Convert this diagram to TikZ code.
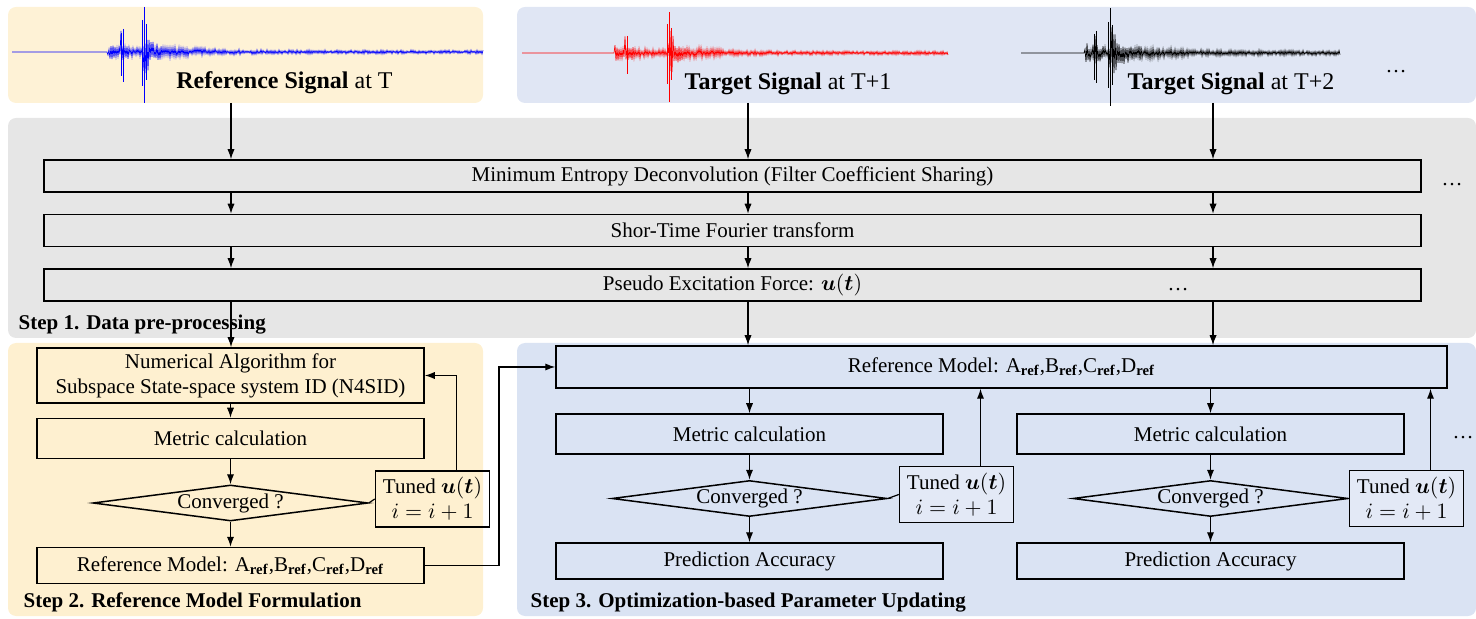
\documentclass[tikz,border=0pt]{standalone}
\usepackage{fontspec}
\setmainfont{Liberation Serif}
\usepackage{bm}
\usetikzlibrary{arrows.meta,positioning,shapes.geometric}

\definecolor{sandpanel}{HTML}{FEF2D6}
\definecolor{sandstep}{HTML}{FEF0D0}
\definecolor{skypanel}{HTML}{E0E6F4}
\definecolor{skystep}{HTML}{DAE3F3}
\definecolor{skybox}{HTML}{E3E9F6}
\definecolor{greypanel}{HTML}{E6E6E6}

\newcommand{\refmat}[1]{#1\textsubscript{\textbf{ref}}}

\tikzset{
  basic/.style    = {draw, line width=0.75pt, rectangle, inner sep=1pt, align=center,
                     font=\fontsize{10.5}{12.5}\selectfont},
  wide/.style     = {basic, minimum width=688.5pt, minimum height=16pt},
  long/.style     = {basic, minimum width=445.5pt, minimum height=21pt},
  block/.style    = {basic, minimum width=193.5pt, minimum height=20pt},
  decision/.style = {basic, diamond, aspect=7.6, inner sep=0pt,
                     minimum width=137.5pt, minimum height=18pt},
  tuned/.style    = {basic, inner sep=0pt, minimum width=57pt, minimum height=28pt},
  panel/.style    = {rounded corners=4pt},
  title/.style    = {anchor=base, inner sep=0pt, font=\fontsize{12}{14}\selectfont},
  steplabel/.style= {anchor=base west, inner sep=0pt, font=\fontsize{10.5}{12}\selectfont\bfseries},
  more/.style     = {anchor=base, inner sep=0pt, font=\fontsize{10.5}{12}\selectfont},
  signal/.style   = {line width=0.35pt}
}

\begin{document}
\begin{tikzpicture}[x=0.5pt, y=-0.5pt, >={Latex[length=5pt,width=3.6pt]},
  line width=0.6pt,
  declare function={
    burst(\dx,\dk) = (\dx>=0)*exp(-min(max(\dx,0)/\dk,9));
    flip(\xs) = 1-2*mod(round(\xs),2);
    sigref(\xs) = 2*(\xs>=108) + 6*burst(\xs-108,40) + 16*burst(\xs-121,3)
                  + 20*burst(\xs-144,6) + 6*burst(\xs-144,40);
    sigone(\xs) = 2*(\xs>=615) + 6*burst(\xs-615,40) + 12*burst(\xs-625,3)
                  + 18*burst(\xs-669,6) + 6*burst(\xs-669,40);
    sigtwo(\xs) = 2.5*(\xs>=1085) + 8*burst(\xs-1085,30) + 14*burst(\xs-1094,3)
                  + 18*burst(\xs-1110,6) + 7*burst(\xs-1110,50);
  }]
\useasboundingbox (0,0) rectangle (1476,619);

% background panels
\fill[sandpanel, panel] (8,7) rectangle (483,103);
\fill[skypanel, panel] (517,7) rectangle (1476,103);
\fill[greypanel, panel] (8,118) rectangle (1476,338);
\fill[sandstep, panel] (8,343) rectangle (483,616);
\fill[skystep, panel] (517,343) rectangle (1476,616);

% measured signals: noisy trace plus the strongest peaks
\pgfmathsetseed{11}
\draw[signal, blue] plot[domain=12:483, samples=472]
  (\x, {52 + sigref(\x)*(0.3+0.7*rnd)*flip(\x)});
\foreach \px/\top/\bot in {121/33/76, 123/29/82, 142/20/86, 144/7/103, 146/24/80}
  \draw[signal, blue] (\px,\top) -- (\px,\bot);
\draw[signal, red] plot[domain=522:948, samples=427]
  (\x, {53 + sigone(\x)*(0.3+0.7*rnd)*flip(\x)});
\foreach \px/\top/\bot in {627/36/74, 667/24/84, 669/12/102, 671/28/80}
  \draw[signal, red] (\px,\top) -- (\px,\bot);
\draw[signal, black] plot[domain=1021:1340, samples=320]
  (\x, {53 + sigtwo(\x)*(0.3+0.7*rnd)*flip(\x)});
\foreach \px/\top/\bot in {1094/34/80, 1096/31/83, 1108/22/88, 1110/8/106, 1112/25/85}
  \draw[signal, black] (\px,\top) -- (\px,\bot);

\node[title] (rsig) at (284.5,89) {\textbf{Reference Signal} at T};
\node[title] (tsig1) at (788,90) {\textbf{Target Signal} at T+1};
\node[title] (tsig2) at (1231,90) {\textbf{Target Signal} at T+2};
\node[more] (tmore) at (1396,73) {\dots};

\coordinate (sig1) at (231,103);
\coordinate (sig2) at (748,103);
\coordinate (sig3) at (1213,103);

% Step 1: shared pre-processing
\node[wide] (med) at (732.5,176) {Minimum Entropy Deconvolution (Filter Coefficient Sharing)};
\node[wide, below=10.5pt of med] (stft) {Shor-Time Fourier transform};
\node[wide, below=10.5pt of stft] (pef) {Pseudo Excitation Force: $\bm{u}(\bm{t})$};
\node[more] (pmore) at (1178,291) {\dots};
\node[more] (smore) at (1452,186) {\dots};
\node[steplabel] (lab1) at (18,330) {Step 1. Data pre-processing};

% Step 2: reference model
\node[block, minimum height=27.5pt] (nsid) at (230.5,375.5)
  {Numerical Algorithm for\\Subspace State-space system ID (N4SID)};
\node[block, below=7pt of nsid] (met0) {Metric calculation};
\node[decision, below=12.5pt of met0] (dec0) {Converged ?};
\node[block, minimum height=18pt, below=12.5pt of dec0] (ref0)
  {Reference Model: \refmat{A},\refmat{B},\refmat{C},\refmat{D}};
\node[tuned, right=3pt of dec0, yshift=2pt] (tun0) {Tuned $\bm{u}(\bm{t})$\\$i=i+1$};
\node[steplabel] (lab2) at (23,607) {Step 2. Reference Model Formulation};

% Step 3: parameter updating
\node[long] (upd) at (1001.5,367)
  {Reference Model: \refmat{A},\refmat{B},\refmat{C},\refmat{D}};
\node[block] (met1) at (749.5,434) {Metric calculation};
\node[block] (met2) at (1210.5,434) {Metric calculation};
\node[decision, below=12.5pt of met1] (dec1) {Converged ?};
\node[decision, below=12.5pt of met2] (dec2) {Converged ?};
\node[block, minimum height=18pt, below=12.5pt of dec1] (pred1) {Prediction Accuracy};
\node[block, minimum height=18pt, below=12.5pt of dec2] (pred2) {Prediction Accuracy};
\node[tuned, fill=skybox, right=5.5pt of dec1, yshift=2pt] (tun1) {Tuned $\bm{u}(\bm{t})$\\$i=i+1$};
\node[tuned, fill=skybox, right=0pt of dec2] (tun2) {Tuned $\bm{u}(\bm{t})$\\$i=i+1$};
\node[more] (umore) at (1463,438) {\dots};
\node[steplabel] (lab3) at (530,607) {Step 3. Optimization-based Parameter Updating};

% signal columns through step 1
\foreach \col in {sig1,sig2,sig3} {
  \draw[->] (\col) -- (\col |- med.north);
  \draw[->] (\col |- med.south) -- (\col |- stft.north);
  \draw[->] (\col |- stft.south) -- (\col |- pef.north);
}
\draw[->] (sig1 |- pef.south) -- (sig1 |- nsid.north);
\draw[->] (sig2 |- pef.south) -- (sig2 |- upd.north);
\draw[->] (sig3 |- pef.south) -- (sig3 |- upd.north);

% step 2 flow and tuning loop
\draw[->] (nsid) -- (met0);
\draw[->] (met0) -- (dec0);
\draw[->] (dec0) -- (ref0);
\draw (dec0.east) -- (tun0.west);
\draw[->] ([xshift=12pt]tun0.north) |- (nsid.east);

% hand-over of the reference model
\coordinate (hop) at (499,0);
\draw[->] (ref0.east) -| (hop |- upd.west) -- (upd.west);

% step 3 flow and tuning loops
\foreach \i in {1,2} {
  \draw[->] (upd.south -| met\i.north) -- (met\i.north);
  \draw[->] (met\i) -- (dec\i);
  \draw[->] (dec\i) -- (pred\i);
  \draw (dec\i.east) -- (tun\i.west);
  \draw[->] ([xshift=12pt]tun\i.north) -- ([xshift=12pt]tun\i.north |- upd.south);
}
\end{tikzpicture}
\end{document}
